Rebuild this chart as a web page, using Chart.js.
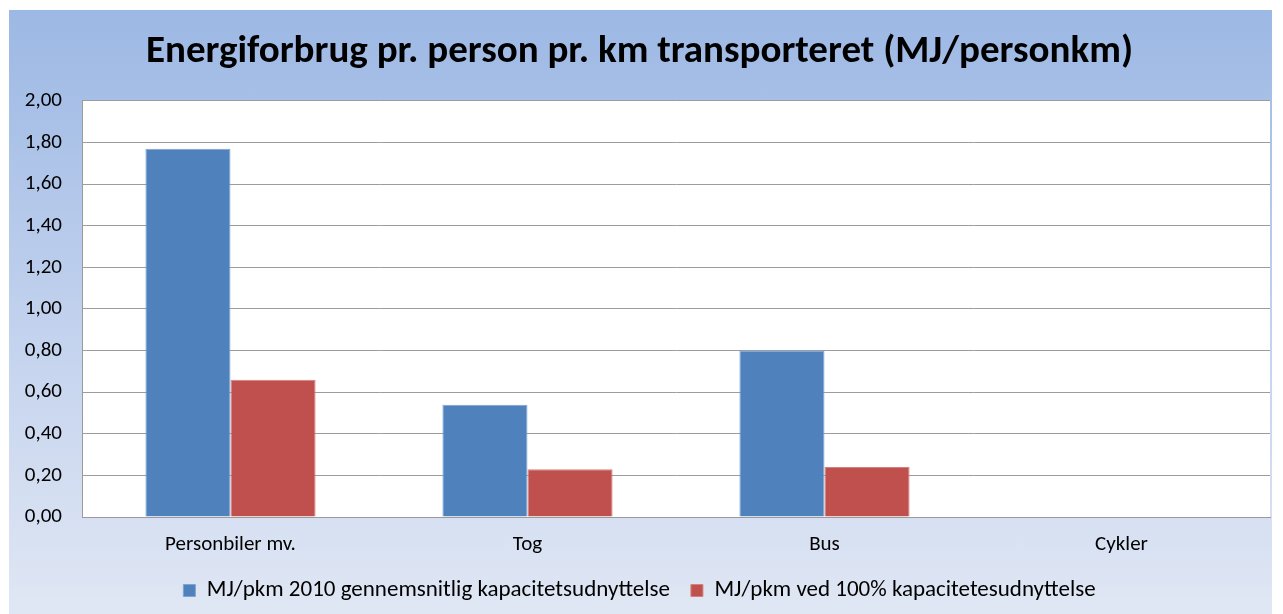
<!DOCTYPE html>
<html>
<head>
<meta charset="utf-8">
<script src="https://cdn.jsdelivr.net/npm/chart.js@4.4.0/dist/chart.umd.min.js"></script>
<style>
  html, body { margin: 0; padding: 0; background: #fff; }
  #wrap {
    position: absolute; left: 9px; top: 10px; width: 1263px; height: 604px;
    background: linear-gradient(to bottom, #9cb8e4 0%, #c4d3ee 55%, #e0e7f4 100%);
  }
</style>
</head>
<body>
<div id="wrap"><canvas id="energyChart"></canvas></div>
<script>
const categories = ["Personbiler mv.", "Tog", "Bus", "Cykler"];
const seriesNames = ["MJ/pkm 2010 gennemsnitlig kapacitetsudnyttelse", "MJ/pkm ved 100% kapacitetesudnyttelse"];
const avgValues = [1.77, 0.54, 0.80, 0];
const fullValues = [0.66, 0.23, 0.24, 0];

const FONT = "Carlito, Lato, 'Open Sans', sans-serif";

// white plot background
const plotBg = {
  id: "plotBg",
  beforeDraw(chart) {
    const { ctx, chartArea: a } = chart;
    ctx.save();
    ctx.fillStyle = "#ffffff";
    ctx.fillRect(a.left, a.top, a.right - a.left, a.bottom - a.top);
    ctx.restore();
  }
};

new Chart(document.getElementById("energyChart"), {
  type: "bar",
  data: {
    labels: categories,
    datasets: [
      { label: seriesNames[0], data: avgValues, backgroundColor: "#4f81bd", borderColor: "#7fa3d3", borderWidth: 1 },
      { label: seriesNames[1], data: fullValues, backgroundColor: "#c0504d", borderColor: "#d4807e", borderWidth: 1 }
    ]
  },
  options: {
    responsive: true,
    maintainAspectRatio: false,
    animation: false,
    layout: { padding: { left: 0, right: 2, top: 0, bottom: 2 } },
    datasets: { bar: { categoryPercentage: 0.573, barPercentage: 1.0 } },
    plugins: {
      title: {
        display: true,
        text: "Energiforbrug pr. person pr. km transporteret (MJ/personkm)",
        color: "#000",
        font: { family: FONT, size: 39, weight: "bold" },
        padding: { top: 19, bottom: 25 }
      },
      legend: {
        position: "bottom",
        labels: {
          color: "#000",
          font: { family: FONT, size: 23 },
          boxWidth: 12, boxHeight: 12,
          padding: 21
        }
      },
      tooltip: { enabled: false }
    },
    scales: {
      x: {
        grid: { display: false, drawTicks: false },
        border: { color: "#9a9a9a", width: 1 },
        ticks: { color: "#000", font: { family: FONT, size: 21 }, padding: 15 },
        afterFit(scale) { scale.height = 41; }
      },
      y: {
        min: 0, max: 2,
        grid: { color: "#9c9c9c", drawTicks: false },
        border: { color: "#9a9a9a", width: 1 },
        ticks: {
          stepSize: 0.2,
          color: "#000",
          font: { family: FONT, size: 21 },
          padding: 20,
          callback: v => v.toFixed(2).replace(".", ",")
        },
        afterFit(scale) { scale.width = 73; }
      }
    }
  },
  plugins: [plotBg]
});
</script>
</body>
</html>
